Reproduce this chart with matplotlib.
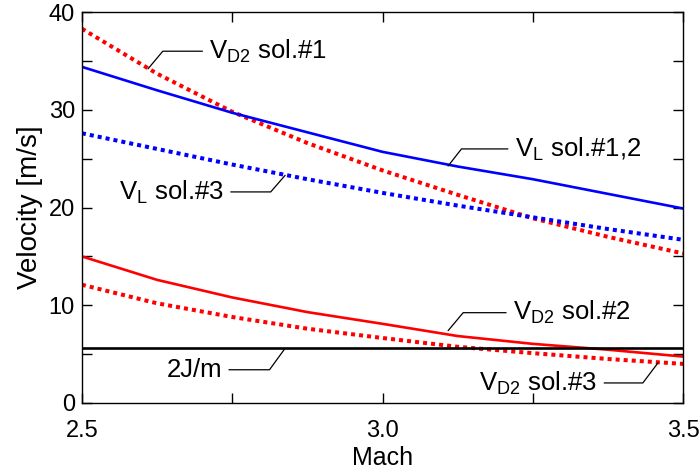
import matplotlib
matplotlib.use("Agg")
import matplotlib.pyplot as plt
from matplotlib.ticker import MultipleLocator

plt.rcParams['font.family'] = ['Liberation Sans', 'DejaVu Sans']
plt.rcParams['mathtext.fontset'] = 'custom'
plt.rcParams['mathtext.rm'] = 'Liberation Sans'
plt.rcParams['mathtext.it'] = 'Liberation Sans'

# Mach numbers (sample points)
mach = [2.5, 2.625, 2.75, 2.875, 3.0, 3.125, 3.25, 3.375, 3.5]

# velocities [m/s]
vl_sol12 = [34.4, 32.0, 29.7, 27.7, 25.7, 24.2, 22.9, 21.4, 19.9]
vl_sol3 = [27.6, 26.0, 24.4, 22.9, 21.5, 20.2, 19.0, 17.8, 16.7]
vd2_sol1 = [38.3, 33.7, 29.8, 26.6, 23.8, 21.3, 18.9, 17.0, 15.3]
vd2_sol2 = [15.0, 12.6, 10.8, 9.3, 8.1, 6.85, 6.05, 5.45, 4.75]
vd2_sol3 = [12.1, 10.2, 8.8, 7.6, 6.65, 5.75, 5.1, 4.5, 4.0]
two_j_over_m = 5.6

# labels: text, point on curve, text anchor, alignment, leader angle
notes = [
    (r'V$_{\mathrm{D2}}$ sol.#1', (2.610, 34.2), (2.712, 36.0), 'left', 50),
    (r'V$_{\mathrm{L}}$ sol.#3', (2.838, 23.3), (2.736, 21.6), 'right', 49),
    (r'V$_{\mathrm{L}}$ sol.#1,2', (3.109, 24.25), (3.220, 26.0), 'left', 52),
    (r'V$_{\mathrm{D2}}$ sol.#2', (3.109, 7.4), (3.217, 9.24), 'left', 50),
    (r'V$_{\mathrm{D2}}$ sol.#3', (3.458, 4.1), (3.357, 2.05), 'right', 53),
    ('2J/m', (2.838, 5.6), (2.733, 3.4), 'right', 54),
]

fig = plt.figure(figsize=(7, 4.7), dpi=100)
ax = fig.add_axes([0.117, 0.1426, 0.859, 0.8316])

dots = (1, 1.0)
ax.plot(mach, vd2_sol1, color='red', lw=2.9, dashes=dots)
ax.plot(mach, vl_sol12, color='blue', lw=1.9)
ax.plot(mach, vl_sol3, color='blue', lw=2.9, dashes=dots)
ax.plot(mach, vd2_sol2, color='red', lw=1.9)
ax.plot(mach, vd2_sol3, color='red', lw=2.9, dashes=dots)
ax.axhline(two_j_over_m, color='black', lw=1.9)

for text, pt, txt, ha, ang in notes:
    ax.annotate(text, xy=pt, xytext=txt, ha=ha, va='center', fontsize=18.5,
                arrowprops=dict(arrowstyle='-', color='black', lw=0.9,
                                shrinkA=3, shrinkB=0,
                                connectionstyle='angle,angleA=0,angleB=%d,rad=0' % ang))

ax.set_xlim(2.5, 3.5)
ax.set_ylim(0, 40)
ax.xaxis.set_major_locator(MultipleLocator(0.5))
ax.xaxis.set_minor_locator(MultipleLocator(0.25))
ax.yaxis.set_major_locator(MultipleLocator(10))
ax.yaxis.set_minor_locator(MultipleLocator(5))
ax.set_xticklabels(['%.1f' % v for v in ax.get_xticks()])
ax.tick_params(which='both', direction='in', top=True, right=True,
               length=7, width=1, labelsize=17)
ax.tick_params(axis='x', pad=12)
ax.tick_params(axis='y', pad=5)
for s in ax.spines.values():
    s.set_linewidth(1)

ax.set_xlabel('Mach', fontsize=18, labelpad=3)
ax.set_ylabel('Velocity [m/s]', fontsize=20, labelpad=4)

fig.savefig('out.png', dpi=100)
